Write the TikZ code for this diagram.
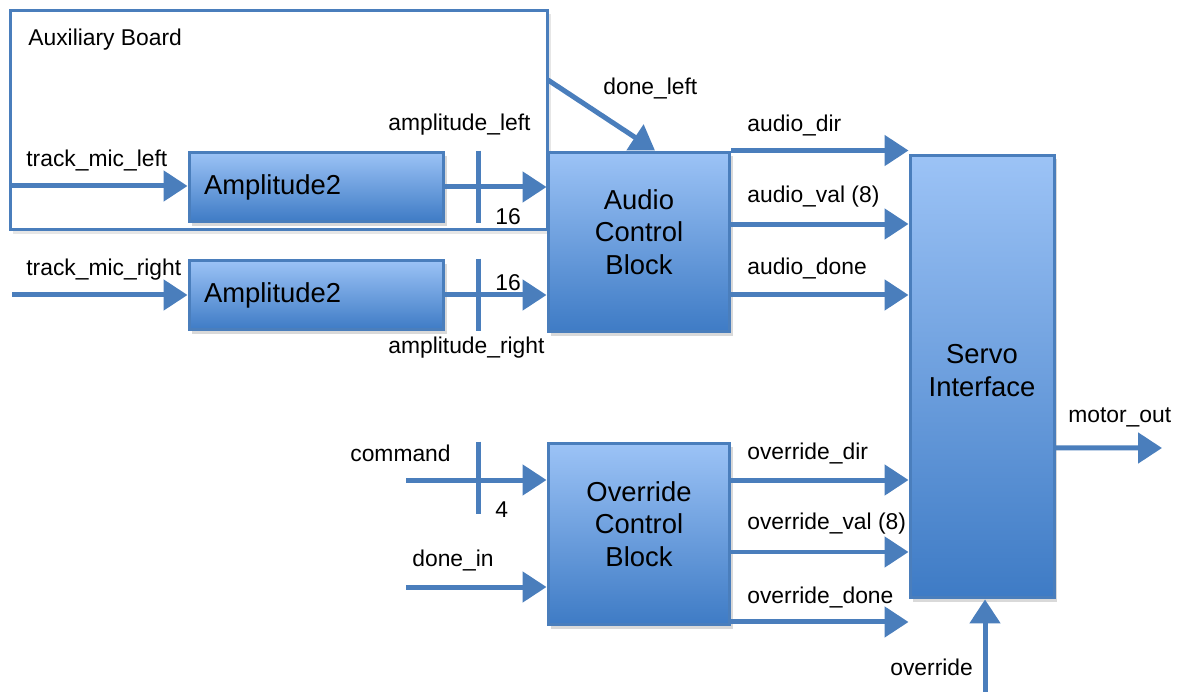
\documentclass[tikz,border=0pt]{standalone}
\usepackage{fontspec}
\setmainfont{Liberation Sans}
\usepackage{tikz}
\usetikzlibrary{arrows.meta, shadows}
\usepackage{xcolor}
\definecolor{wireblue}{RGB}{74,126,188}
\definecolor{blocktop}{RGB}{156,195,246}
\definecolor{blockbot}{RGB}{62,123,197}

\begin{document}
\begin{tikzpicture}[x=0.02cm, y=-0.02cm,
    block/.style={draw=wireblue, line width=0.06cm, top color=blocktop, bottom color=blockbot, drop shadow={shadow xshift=0.06cm, shadow yshift=-0.08cm, opacity=0.3}, align=center, font=\fontsize{15.6}{18.4}\selectfont},
    blocktext/.style={align=center, inner sep=0pt, font=\fontsize{15.6}{18.4}\selectfont},
    lbl/.style={font=\fontsize{13}{15}\selectfont, inner sep=0pt, anchor=west},
    wire/.style={draw=wireblue, line width=0.1cm, -{Triangle[length=0.48cm, width=0.6cm]}},
    bustick/.style={draw=wireblue, line width=0.1cm}]
        \useasboundingbox (0,0) rectangle (1179,692);

        % auxiliary board frame
        \node[draw=wireblue, fill=white, line width=0.06cm, minimum width=10.76cm, minimum height=4.4cm, drop shadow={shadow xshift=0.06cm, shadow yshift=-0.08cm, opacity=0.2}] (aux) at (279,120) {};
        \node[lbl] (auxlbl) at (28,40) {Auxiliary Board};

        % blocks
        \node[block, text width=4.5cm, inner xsep=0.3cm, align=left, minimum height=1.4cm] (ampl) at (316.5,187) {Amplitude2};
        \node[block, text width=4.5cm, inner xsep=0.3cm, align=left, minimum height=1.4cm] (ampr) at (316.5,295) {Amplitude2};
        \node[block, minimum width=3.64cm, minimum height=3.6cm,
              label={[blocktext, yshift=0.2cm]center:Audio\\Control\\Block}] (acb) at (639,242) {};
        \node[block, minimum width=3.64cm, minimum height=3.64cm,
              label={[blocktext, yshift=0.2cm]center:Override\\Control\\Block}] (ocb) at (639,534) {};
        \node[block, minimum width=2.88cm, minimum height=8.86cm,
              label={[blocktext, yshift=0.12cm]center:Servo\\Interface}] (servo) at (982,376.5) {};

        % free ends and levels
        \coordinate (micl) at (10,186);
        \coordinate (micr) at (12,295);
        \coordinate (doneleft) at (548,80);
        \coordinate (cmd) at (406,480);
        \coordinate (donein) at (406,587);
        \coordinate (motor) at (1162,448);
        \coordinate (ovr) at (985,692);
        \coordinate (adir) at (acb.north east);
        \coordinate (aval) at ([yshift=0.36cm]acb.east);
        \coordinate (adone) at ([yshift=-1.06cm]acb.east);
        \coordinate (odir) at ([yshift=1.08cm]ocb.east);
        \coordinate (oval) at ([yshift=-0.36cm]ocb.east);
        \coordinate (odone) at ([yshift=-1.76cm]ocb.east);
        \coordinate (mout) at ([yshift=-1.43cm]servo.east);

        % connectors
        \draw[wire] (micl) -- (micl -| ampl.west);
        \draw[wire] (micr) -- (micr -| ampr.west);
        \draw[wire] (ampl.east) -- (ampl.east -| acb.west);
        \draw[wire] (ampr.east) -- (ampr.east -| acb.west);
        \draw[bustick] ([xshift=0.66cm]ampl.north east) -- ([xshift=0.66cm]ampl.south east);
        \draw[bustick] ([xshift=0.66cm]ampr.north east) -- ([xshift=0.66cm]ampr.south east);
        \draw[wire] (doneleft) -- ([xshift=0.32cm]acb.north);
        \draw[wire] (adir) -- (adir -| servo.west);
        \draw[wire] (aval) -- (aval -| servo.west);
        \draw[wire] (adone) -- (adone -| servo.west);
        \draw[wire] (cmd) -- (cmd -| ocb.west);
        \draw[bustick] ([xshift=-1.36cm]ocb.north west) -- ++(0,72);
        \draw[wire] (donein) -- (donein -| ocb.west);
        \draw[wire] (odir) -- (odir -| servo.west);
        \draw[wire] (oval) -- (oval -| servo.west);
        \draw[wire] (odone) -- (odone -| servo.west);
        \draw[wire] (mout) -- (motor);
        \draw[wire] (ovr) -- (ovr |- servo.south);

        % labels
        \node[lbl] (lmicl) at (26,160) {track\_mic\_left};
        \node[lbl] (lmicr) at (26,270) {track\_mic\_right};
        \node[lbl] (lampl) at (388,125) {amplitude\_left};
        \node[lbl] (lampr) at (388,348) {amplitude\_right};
        \node[lbl] (lwl) at (495,217) {16};
        \node[lbl] (lwr) at (495,283) {16};
        \node[lbl] (ldl) at (603,88) {done\_left};
        \node[lbl] (ladir) at (747,125) {audio\_dir};
        \node[lbl] (laval) at (747,197) {audio\_val (8)};
        \node[lbl] (ladone) at (747,268) {audio\_done};
        \node[lbl] (lcmd) at (350,453) {command};
        \node[lbl] (lwc) at (495,510) {4};
        \node[lbl] (ldin) at (412,560) {done\_in};
        \node[lbl] (lodir) at (747,453) {override\_dir};
        \node[lbl] (loval) at (747,524) {override\_val (8)};
        \node[lbl] (lodone) at (747,597) {override\_done};
        \node[lbl] (lmout) at (1068,417) {motor\_out};
        \node[lbl] (lovr) at (890,667) {override};
    \end{tikzpicture}
\end{document}
